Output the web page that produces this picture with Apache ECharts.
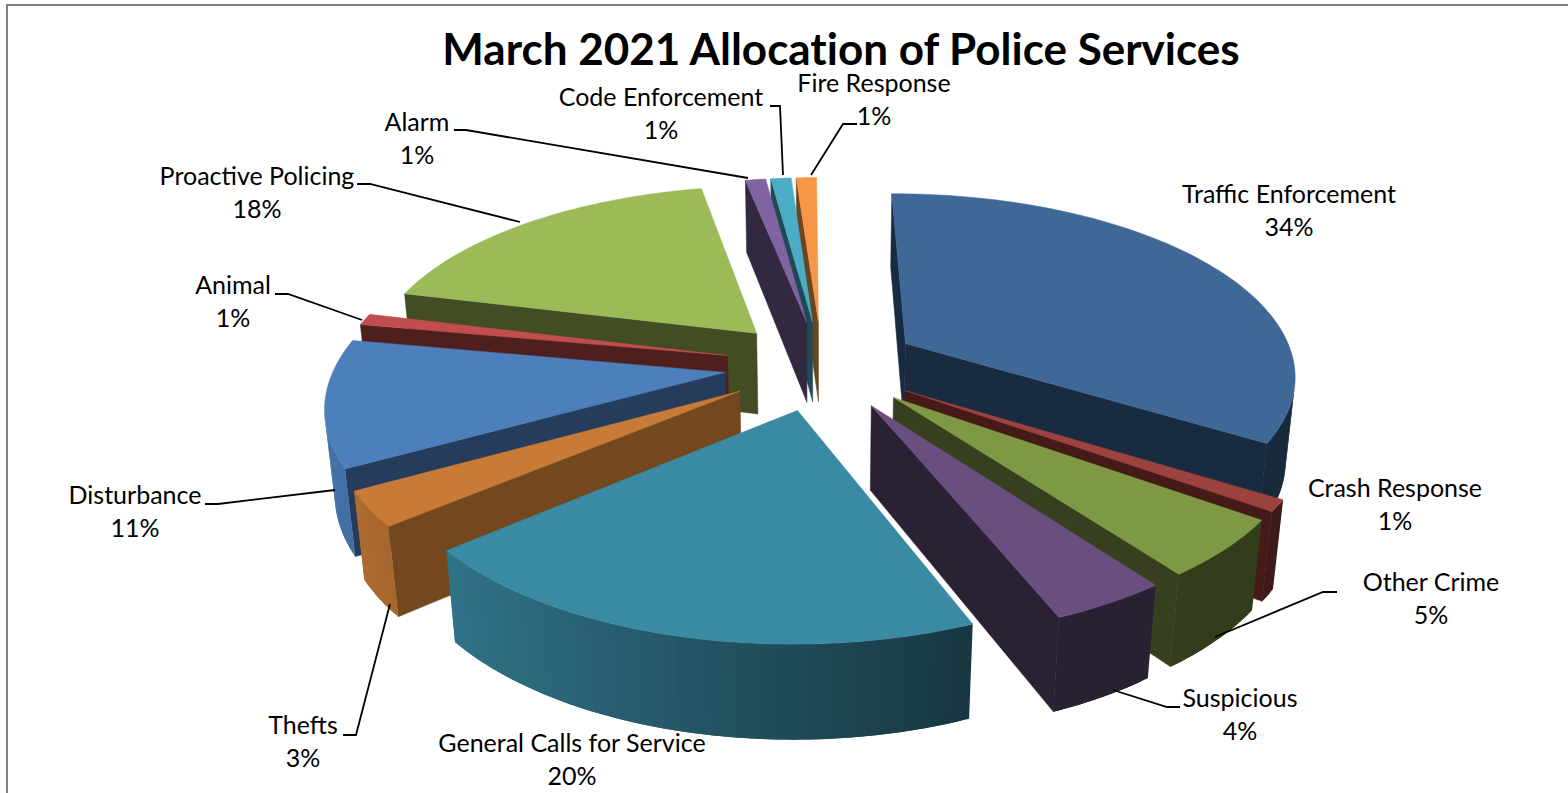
<!DOCTYPE html>
<html>
<head>
<meta charset="utf-8">
<style>
html,body{margin:0;padding:0;background:#fff}
#chart{width:1568px;height:793px}
#chart text{font-variant-ligatures:none}
</style>
<script src="https://cdn.jsdelivr.net/npm/echarts@6/dist/echarts.min.js"></script>
</head>
<body>
<div id="chart"></div>
<script>
// Service categories, clockwise from twelve o'clock, and their share in percent
const categories = ['Traffic Enforcement','Crash Response','Other Crime','Suspicious','General Calls for Service','Thefts','Disturbance','Animal','Proactive Policing','Alarm','Code Enforcement','Fire Response'];
const shares = [34,1,5,4,20,3,11,1,18,1,1,1];

// Face colours for each slice
const topColors  = ['#3f6897','#9c423f','#7e9946','#684f80','#3a8aa3','#c77b36','#4c7fbb','#bf4e4c','#9bbb59','#8064a2','#4bacc6','#f79646'];
const wallColors = ['#182b40','#451a19','#36401f','#2a2135','#1f4a55','#74481f','#263c5c','#4f1f1e','#424d23','#322840','#1f4a55','#6b451f'];

// Label centres (first line) and leader polylines
const labelCenters = [[1289,193],[1395,487],[1431,581],[1240,697],[572,742],[303,724],[135,494],[233,284],[257,175],[417,121],[661,96],[874,82]];
const leaders = [null,null,
  [[1337,592],[1323,592],[1215,637]],
  [[1180,707],[1167,707],[1113,690]],
  null,
  [[343,735],[356,735],[390,604]],
  [[205,504],[218,504],[335,490]],
  [[275,294],[288,294],[362,320]],
  [[357,184],[370,184],[520,222]],
  [[454,130],[466,130],[748,178]],
  [[770,106],[780,106],[783,175]],
  [[857,124],[843,124],[811,175]]];

// Projection of the exploded pie: unit disc, explosion, perspective and wall height
const view = {cx:822, cy:365, rx:390, ry:180, persp:0.16, explode:0.25, height:84, floor:0.02, rotate:-0.4};
const rad = Math.PI/180;
const total = shares.reduce((a,b)=>a+b,0);
const cumulative = shares.reduce((acc,v)=>{acc.push(acc[acc.length-1]+v);return acc;},[0]);

function project(X,Y,lower){
  const s = 1/(1 - view.persp*Y + (lower?view.floor:0));
  return [view.cx + view.rx*X*s, view.cy + (view.ry*Y + (lower?view.height:0))*s];
}
function shade(hex,f){
  const n = parseInt(hex.slice(1),16);
  const c = [n>>16,(n>>8)&255,n&255].map(v=>Math.round(v*f));
  return `rgb(${c[0]},${c[1]},${c[2]})`;
}
function polygon(points,color,outline){
  return {type:'polygon',shape:{points},style:{fill:color,stroke:outline?color:'none',lineWidth:outline?0.5:0}};
}
// signed screen area; its sign tells which way a wall faces
function area(pts){
  let a=0;
  pts.forEach((p,k)=>{const q=pts[(k+1)%pts.length];a+=p[0]*q[1]-q[0]*p[1];});
  return a;
}

function renderSlice(params,api){
  const i = api.value(0);
  const a0 = cumulative[i]/total*360 + view.rotate;
  const a1 = a0 + api.value(1)/total*360;
  const mid = (a0+a1)/2*rad;
  const ox = view.explode*Math.sin(mid), oy = -view.explode*Math.cos(mid);
  const rim = [];
  const steps = Math.max(2,Math.ceil(a1-a0));
  for(let k=0;k<=steps;k++){
    const t = (a0+(a1-a0)*k/steps)*rad;
    rim.push({x:ox+Math.sin(t),y:oy-Math.cos(t),t});
  }
  const children = [];
  const apexTop = project(ox,oy,false), apexLow = project(ox,oy,true);
  const wall = p => [apexTop,project(p.x,p.y,false),project(p.x,p.y,true),apexLow];
  // radial walls, only where they face the viewer
  const wallStart = wall(rim[0]), wallEnd = wall(rim[steps]);
  if(area(wallStart)<0) children.push(polygon(wallStart,wallColors[i],true));
  if(area(wallEnd)>0) children.push(polygon(wallEnd,wallColors[i],true));
  // rim wall lit from the left; each band overlaps the next one so no seams show
  for(let k=0;k<steps;k++){
    const p=rim[k],q=rim[k+1],r=rim[Math.min(k+2,steps)];
    const band=[project(p.x,p.y,false),project(q.x,q.y,false),project(q.x,q.y,true),project(p.x,p.y,true)];
    if(area(band)>=0) continue;
    const f=Math.max(0.4,Math.min(0.92,0.54-0.38*Math.sin((p.t+q.t)/2)));
    children.push(polygon([band[0],project(q.x,q.y,false),project(r.x,r.y,false),project(r.x,r.y,true),band[2],band[3]],shade(topColors[i],f),false));
  }
  // top face
  children.push(polygon([apexTop].concat(rim.map(p=>project(p.x,p.y,false))),topColors[i],true));
  return {type:'group',children};
}

function renderLabel(params,api){
  const i = api.value(0);
  const [x,y] = labelCenters[i];
  const font = '25px Lato, "Open Sans", sans-serif';
  const text = (t,ty)=>({type:'text',style:{text:t,x,y:ty,align:'center',verticalAlign:'middle',font,fill:'#000'}});
  const children = [text(categories[i],y),text(api.value(1)+'%',y+33)];
  if(leaders[i]) children.push({type:'polyline',shape:{points:leaders[i]},style:{fill:'none',stroke:'#000',lineWidth:1.8}});
  return {type:'group',children};
}

// far slices are drawn first so nearer ones overlap them
const depth = i => -Math.cos((cumulative[i]+shares[i]/2)/total*2*Math.PI);
const drawOrder = categories.map((_,i)=>i).sort((a,b)=>depth(a)-depth(b));

const chart = echarts.init(document.getElementById('chart'),null,{renderer:'svg'});
chart.setOption({
  animation:false,
  backgroundColor:'#fff',
  title:{text:'March 2021 Allocation of Police Services',left:836,top:43,textAlign:'center',textVerticalAlign:'middle',
    textStyle:{fontFamily:'Lato, "Open Sans", sans-serif',fontWeight:'bold',fontSize:44,color:'#000'}},
  graphic:[{type:'polyline',silent:true,shape:{points:[[7,793],[7,5],[1568,5]]},style:{fill:'none',stroke:'#808080',lineWidth:2}}],
  series:[
    {type:'custom',name:'slices',coordinateSystem:'none',silent:true,z:2,renderItem:renderSlice,
      data:drawOrder.map(i=>({name:categories[i],value:[i,shares[i]]}))},
    {type:'custom',name:'labels',coordinateSystem:'none',silent:true,z:3,renderItem:renderLabel,
      data:categories.map((c,i)=>({name:c,value:[i,shares[i]]}))}
  ]
});
</script>
</body>
</html>
